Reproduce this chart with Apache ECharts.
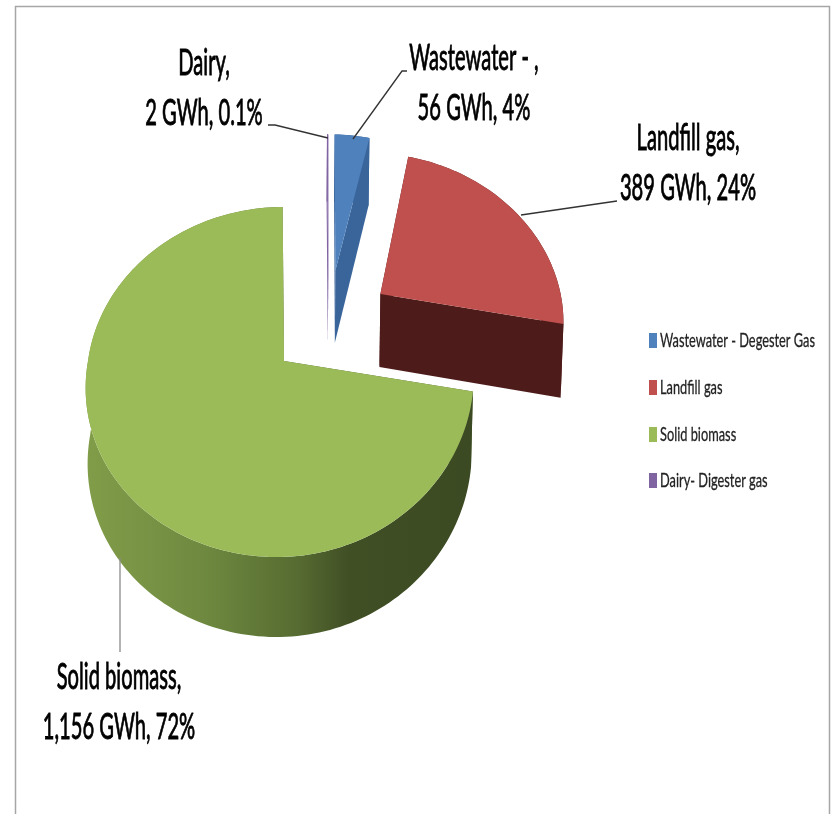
<!DOCTYPE html>
<html>
<head>
<meta charset="utf-8">
<title>Biomass generation</title>
<script src="https://cdn.jsdelivr.net/npm/echarts@6/dist/echarts.min.js"></script>
<style>
html, body { margin: 0; padding: 0; background: #fff; }
#chart { width: 831px; height: 814px; }
</style>
</head>
<body>
<div id="chart"></div>
<script>
'use strict';
// data, in drawing order round the pie (clockwise from 12 o'clock)
var legendNames = ['Wastewater - Degester Gas', 'Landfill gas', 'Solid biomass', 'Dairy- Digester gas'];
var labelNames = ['Wastewater - ', 'Landfill gas', 'Solid biomass', 'Dairy'];
var gwhValues = [56, 389, 1156, 2];
var gwhLabels = ['56', '389', '1,156', '2'];
var pctLabels = ['4%', '24%', '72%', '0.1%'];

var topColors = ['#4f81bd', '#c0504d', '#9bbb59', '#8064a2'];
var sideColors = ['#3a659b', '#4d1c1a', '#4f6230', '#8064a2'];
// how far each slice is pulled out, in pie radii (x, depth), and a small turn in degrees
var explode = [[0.29, -0.56], [0.535, -0.407], [0, 0], [0.25, -0.56]];
var twist = [1.6, 0.8, 0, 1.6];

// 3D projection of the pie plane onto the screen
var P = { cx: 284, cy: 361, bl: 196, br: 189, a: 172.5, k: 0.12, depth: 75, depthV: 5, shrink: 0.99, skew: 7 };

function project(u, v, lower) {
    var w = 1 - P.k * v;
    var x = (u < 0 ? P.bl : P.br) * u / w - P.skew * Math.max(v, 0);
    var y = P.a * v / w;
    if (lower) {
        x = x * P.shrink;
        y = y + P.depth + P.depthV * v;
    }
    return [P.cx + x, P.cy + y];
}

function arc(off, a0, a1, lower) {
    var pts = [];
    var n = Math.max(2, Math.ceil((a1 - a0) / 1.5));
    for (var i = 0; i <= n; i++) {
        var a = (a0 + (a1 - a0) * i / n) * Math.PI / 180;
        pts.push(project(off[0] + Math.sin(a), off[1] - Math.cos(a), lower));
    }
    return pts;
}

var total = gwhValues.reduce(function (s, v) { return s + v; }, 0);
var startAngles = [];
gwhValues.reduce(function (s, v, i) { startAngles[i] = s; return s + v; }, 0);

function poly(points, fill) {
    return { type: 'polygon', shape: { points: points }, style: { fill: fill }, silent: true };
}

function wallFill(i) {
    if (i !== 2) { return sideColors[i]; }
    // only the big slice shows its round wall, shaded left to right
    return new echarts.graphic.LinearGradient(0, 0, 1, 0, [
        { offset: 0, color: '#819d49' },
        { offset: 0.3, color: '#6f8a40' },
        { offset: 0.55, color: '#566b31' },
        { offset: 0.68, color: '#414f25' },
        { offset: 1, color: '#3c4a23' }
    ]);
}

function renderSlice(params, api) {
    var i = params.seriesIndex;
    var off = explode[i];
    var a0 = api.value(1) / total * 360 + twist[i];
    var a1 = a0 + api.value(0) / total * 360;
    var apex = project(off[0], off[1], false);
    var apexLow = project(off[0], off[1], true);
    var upper = arc(off, a0, a1, false);
    var lowerArc = arc(off, a0, a1, true);
    var first = upper[0], last = upper[upper.length - 1];
    var firstLow = lowerArc[0], lastLow = lowerArc[lowerArc.length - 1];

    return {
        type: 'group',
        children: [
            poly([apex, first, firstLow, apexLow], sideColors[i]),
            poly(upper.concat(lowerArc.slice().reverse()), wallFill(i)),
            poly([apex, last, lastLow, apexLow], sideColors[i]),
            poly([apex].concat(upper), topColors[i])
        ]
    };
}

var series = legendNames.map(function (name, i) {
    return {
        type: 'custom',
        name: name,
        coordinateSystem: 'none',
        renderItem: renderSlice,
        itemStyle: { color: topColors[i] },
        silent: true,
        data: [[gwhValues[i], startAngles[i]]]
    };
});

// label centres and leader lines, same order as the data
var labelPos = [[474, 83], [688, 163], [119, 702], [204, 88]];
var leaders = [
    [[407, 71], [402, 71], [353, 139]],
    [[617, 201], [521, 215]],
    [[120, 652], [120, 558]],
    [[268, 125], [275, 125], [328, 138]]
];
var leaderColors = ['#333', '#333', '#8a8a8a', '#333'];
var legendRows = [341, 388, 435, 481];

var graphics = [
    // frame: the picture has no bottom edge
    { type: 'polyline', shape: { points: [[15.5, 814], [15.5, 6.5], [829.5, 6.5], [829.5, 814]] }, style: { stroke: '#a6a6a6', lineWidth: 1.5, fill: null } }
];
leaders.forEach(function (pts, i) {
    graphics.push({ type: 'polyline', z: 10, shape: { points: pts }, style: { stroke: leaderColors[i], lineWidth: 1.3, fill: null } });
});
labelNames.forEach(function (name, i) {
    graphics.push({
        type: 'text',
        z: 10,
        x: labelPos[i][0],
        y: labelPos[i][1],
        scaleX: 0.56,
        style: {
            text: name + ',\n' + gwhLabels[i] + ' GWh, ' + pctLabels[i],
            font: '36px Lato',
            lineHeight: 50,
            align: 'center',
            verticalAlign: 'middle',
            fill: '#000',
            stroke: '#000',
            lineWidth: 0.9
        }
    });
});
// legend is drawn by hand because its condensed text needs scaleX
legendNames.forEach(function (name, i) {
    graphics.push({ type: 'rect', z: 10, shape: { x: 649, y: legendRows[i] - 8, width: 8, height: 15 }, style: { fill: topColors[i] } });
    graphics.push({
        type: 'text',
        z: 10,
        x: 660,
        y: legendRows[i],
        scaleX: 0.64,
        style: { text: name, font: '20px Lato', align: 'left', verticalAlign: 'middle', fill: '#222', stroke: '#222', lineWidth: 0.3 }
    });
});

var chart = echarts.init(document.getElementById('chart'), null, { renderer: 'canvas' });
chart.setOption({
    animation: false,
    backgroundColor: '#fff',
    graphic: graphics,
    series: series
});
</script>
</body>
</html>
